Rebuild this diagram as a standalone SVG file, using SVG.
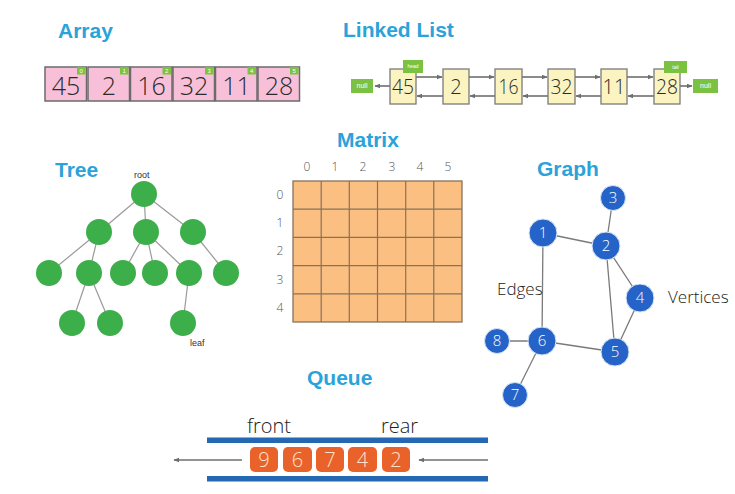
<svg xmlns="http://www.w3.org/2000/svg" width="735" height="494" viewBox="0 0 735 494">
<defs>
<marker id="ah" viewBox="0 0 10 10" refX="9" refY="5" markerWidth="6" markerHeight="6" orient="auto-start-reverse" markerUnits="userSpaceOnUse">
<path d="M0,1 L10,5 L0,9 z" fill="#6e6e6e"/>
</marker>
</defs>
<style>
.title{font-family:"Liberation Sans",Arial,sans-serif;font-weight:bold;font-size:21px;fill:#2aa3da}
.hand{font-family:"Open Sans","DejaVu Sans",sans-serif;font-weight:300}
.arr{fill:#f8c0d8;stroke:#6b6b6b;stroke-width:1.5}
.idx{fill:#7cc242}
.idxt{font-family:"Liberation Sans",sans-serif;font-size:6px;fill:#fff;text-anchor:middle}
.num{font-size:25px;fill:#2a2a2a;text-anchor:middle}
.ll{fill:#fbf4c0;stroke:#7a7a7a;stroke-width:1.3}
.lln{font-size:20px;fill:#2a2a2a;text-anchor:middle}
.gtag{fill:#7cc242}
.gtagt{font-family:"Liberation Sans",sans-serif;font-size:5px;fill:#fff;text-anchor:middle}
.con{stroke:#6e6e6e;stroke-width:1.6;fill:none}
.tedge{stroke:#9a9a9a;stroke-width:1.2}
.tn{fill:#3cae4a}
.small{font-family:"Liberation Sans Narrow","Liberation Sans",sans-serif;font-size:9px;fill:#333}
.mlab{font-size:12px;fill:#555;text-anchor:middle}
.gedge{stroke:#7a7a7a;stroke-width:1.3}
.gn{fill:#2563c8;stroke:#dbe6f5;stroke-width:1}
.gnt{font-size:15px;fill:#fff;text-anchor:middle}
.glab{font-size:17px;fill:#222}
.bar{fill:#2467b2}
.q{fill:#e8622a}
.qt{font-size:20px;fill:#fde3cc;text-anchor:middle}
</style>
<rect width="735" height="494" fill="#fff"/>

<!-- Titles -->
<text class="title" x="58" y="38">Array</text>
<text class="title" x="343" y="37">Linked List</text>
<text class="title" x="337" y="147">Matrix</text>
<text class="title" x="55" y="177">Tree</text>
<text class="title" x="537" y="176">Graph</text>
<text class="title" x="307" y="385">Queue</text>

<!-- Array -->
<g id="array">
<g id="arr0"><rect class="arr" x="45" y="67" width="41.5" height="34"/><rect class="idx" x="77" y="67" width="8.5" height="7.5"/><text class="idxt" x="81.2" y="73">0</text><text class="hand num" x="66" y="95">45</text></g>
<g id="arr1"><rect class="arr" x="88" y="67" width="41.5" height="34"/><rect class="idx" x="120" y="67" width="8.5" height="7.5"/><text class="idxt" x="124.2" y="73">1</text><text class="hand num" x="109" y="95">2</text></g>
<g id="arr2"><rect class="arr" x="130.5" y="67" width="41.5" height="34"/><rect class="idx" x="162.5" y="67" width="8.5" height="7.5"/><text class="idxt" x="166.7" y="73">2</text><text class="hand num" x="151.5" y="95">16</text></g>
<g id="arr3"><rect class="arr" x="173" y="67" width="41.5" height="34"/><rect class="idx" x="205" y="67" width="8.5" height="7.5"/><text class="idxt" x="209.2" y="73">3</text><text class="hand num" x="194" y="95">32</text></g>
<g id="arr4"><rect class="arr" x="215.5" y="67" width="41.5" height="34"/><rect class="idx" x="247.5" y="67" width="8.5" height="7.5"/><text class="idxt" x="251.7" y="73">4</text><text class="hand num" x="236.5" y="95">11</text></g>
<g id="arr5"><rect class="arr" x="258" y="67" width="41.5" height="34"/><rect class="idx" x="290" y="67" width="8.5" height="7.5"/><text class="idxt" x="294.2" y="73">5</text><text class="hand num" x="279" y="95">28</text></g>
</g>

<!-- Linked list -->
<g id="linkedlist-connectors">
<line class="con" x1="390" y1="86" x2="375" y2="86" marker-end="url(#ah)"/>
<line class="con" x1="680" y1="86" x2="692" y2="86" marker-end="url(#ah)"/>
<line class="con" x1="416" y1="77" x2="442" y2="77" marker-end="url(#ah)"/>
<line class="con" x1="443" y1="96" x2="417" y2="96" marker-end="url(#ah)"/>
<line class="con" x1="469" y1="77" x2="494" y2="77" marker-end="url(#ah)"/>
<line class="con" x1="495" y1="96" x2="470" y2="96" marker-end="url(#ah)"/>
<line class="con" x1="522" y1="77" x2="547" y2="77" marker-end="url(#ah)"/>
<line class="con" x1="548" y1="96" x2="523" y2="96" marker-end="url(#ah)"/>
<line class="con" x1="575" y1="77" x2="600" y2="77" marker-end="url(#ah)"/>
<line class="con" x1="601" y1="96" x2="576" y2="96" marker-end="url(#ah)"/>
<line class="con" x1="627" y1="77" x2="653" y2="77" marker-end="url(#ah)"/>
<line class="con" x1="654" y1="96" x2="628" y2="96" marker-end="url(#ah)"/>
</g>
<g id="ll-null-left"><rect class="gtag" x="351" y="79" width="22" height="14"/><text class="gtagt" x="362" y="88" style="font-size:7px">null</text></g>
<g id="ll-null-right"><rect class="gtag" x="693" y="79" width="25" height="14"/><text class="gtagt" x="705.5" y="88" style="font-size:7px">null</text></g>
<g id="ll45"><rect class="ll" x="390" y="69" width="26" height="35"/><text class="hand lln" x="403" y="94" textLength="22" lengthAdjust="spacingAndGlyphs">45</text><rect class="gtag" x="403" y="60" width="20" height="13"/><text class="gtagt" x="413" y="68">head</text></g>
<g id="ll2"><rect class="ll" x="443" y="69" width="26" height="35"/><text class="hand lln" x="456" y="94">2</text></g>
<g id="ll16"><rect class="ll" x="495" y="69" width="27" height="35"/><text class="hand lln" x="508.5" y="94" textLength="20" lengthAdjust="spacingAndGlyphs">16</text></g>
<g id="ll32"><rect class="ll" x="548" y="69" width="27" height="35"/><text class="hand lln" x="561.5" y="94" textLength="22" lengthAdjust="spacingAndGlyphs">32</text></g>
<g id="ll11"><rect class="ll" x="601" y="69" width="26" height="35"/><text class="hand lln" x="614" y="94">11</text></g>
<g id="ll28"><rect class="ll" x="654" y="69" width="26" height="35"/><text class="hand lln" x="667" y="94" textLength="22" lengthAdjust="spacingAndGlyphs">28</text><rect class="gtag" x="664" y="61" width="23" height="12"/><text class="gtagt" x="675.5" y="69">tail</text></g>

<!-- Tree -->
<g id="tree-edges">
<line class="tedge" x1="144" y1="194" x2="99" y2="232"/>
<line class="tedge" x1="144" y1="194" x2="146" y2="232"/>
<line class="tedge" x1="144" y1="194" x2="193" y2="232"/>
<line class="tedge" x1="99" y1="232" x2="49" y2="273"/>
<line class="tedge" x1="99" y1="232" x2="89" y2="273"/>
<line class="tedge" x1="146" y1="232" x2="123" y2="273"/>
<line class="tedge" x1="146" y1="232" x2="155" y2="273"/>
<line class="tedge" x1="146" y1="232" x2="189" y2="273"/>
<line class="tedge" x1="193" y1="232" x2="226" y2="273"/>
<line class="tedge" x1="89" y1="273" x2="72" y2="323"/>
<line class="tedge" x1="89" y1="273" x2="110" y2="323"/>
<line class="tedge" x1="189" y1="273" x2="183" y2="323"/>
</g>
<g id="tree-root"><circle class="tn" cx="144" cy="194" r="13"/><text class="small" x="134" y="178">root</text></g>
<g id="tree-n1"><circle class="tn" cx="99" cy="232" r="13"/></g>
<g id="tree-n2"><circle class="tn" cx="146" cy="232" r="13"/></g>
<g id="tree-n3"><circle class="tn" cx="193" cy="232" r="13"/></g>
<g id="tree-n4"><circle class="tn" cx="49" cy="273" r="13"/></g>
<g id="tree-n5"><circle class="tn" cx="89" cy="273" r="13"/></g>
<g id="tree-n6"><circle class="tn" cx="123" cy="273" r="13"/></g>
<g id="tree-n7"><circle class="tn" cx="155" cy="273" r="13"/></g>
<g id="tree-n8"><circle class="tn" cx="189" cy="273" r="13"/></g>
<g id="tree-n9"><circle class="tn" cx="226" cy="273" r="13"/></g>
<g id="tree-n10"><circle class="tn" cx="72" cy="323" r="13"/></g>
<g id="tree-n11"><circle class="tn" cx="110" cy="323" r="13"/></g>
<g id="tree-leaf"><circle class="tn" cx="183" cy="323" r="13"/><text class="small" x="190" y="346">leaf</text></g>

<!-- Matrix -->
<g id="matrix">
<g class="hand">
<text class="mlab" x="307" y="171">0</text><text class="mlab" x="335" y="171">1</text><text class="mlab" x="363" y="171">2</text><text class="mlab" x="392" y="171">3</text><text class="mlab" x="420" y="171">4</text><text class="mlab" x="448" y="171">5</text>
<text class="mlab" x="280" y="199">0</text><text class="mlab" x="280" y="227">1</text><text class="mlab" x="280" y="255">2</text><text class="mlab" x="280" y="284">3</text><text class="mlab" x="280" y="312">4</text>
</g>
<rect x="293" y="181" width="169" height="141" fill="#fbbf82" stroke="#85735e" stroke-width="1.3"/>
<g stroke="#85735e" stroke-width="1.2">
<line x1="321.2" y1="181" x2="321.2" y2="322"/><line x1="349.3" y1="181" x2="349.3" y2="322"/><line x1="377.5" y1="181" x2="377.5" y2="322"/><line x1="405.7" y1="181" x2="405.7" y2="322"/><line x1="433.8" y1="181" x2="433.8" y2="322"/>
<line x1="293" y1="209.2" x2="462" y2="209.2"/><line x1="293" y1="237.4" x2="462" y2="237.4"/><line x1="293" y1="265.6" x2="462" y2="265.6"/><line x1="293" y1="293.8" x2="462" y2="293.8"/>
</g>
</g>

<!-- Graph -->
<g id="graph-edges">
<line class="gedge" x1="613" y1="198" x2="606" y2="246"/>
<line class="gedge" x1="543" y1="233" x2="606" y2="246"/>
<line class="gedge" x1="543" y1="233" x2="542" y2="341"/>
<line class="gedge" x1="606" y1="246" x2="615" y2="352"/>
<line class="gedge" x1="606" y1="246" x2="640" y2="298"/>
<line class="gedge" x1="640" y1="298" x2="615" y2="352"/>
<line class="gedge" x1="542" y1="341" x2="615" y2="352"/>
<line class="gedge" x1="497" y1="341" x2="542" y2="341"/>
<line class="gedge" x1="542" y1="341" x2="515" y2="395"/>
</g>
<g id="g3"><circle class="gn" cx="613" cy="198" r="12.5"/><text class="hand gnt" x="613" y="203">3</text></g>
<g id="g1"><circle class="gn" cx="543" cy="233" r="14"/><text class="hand gnt" x="543" y="238">1</text></g>
<g id="g2"><circle class="gn" cx="606" cy="246" r="14"/><text class="hand gnt" x="606" y="251">2</text></g>
<g id="g4"><circle class="gn" cx="640" cy="298" r="14"/><text class="hand gnt" x="640" y="303">4</text></g>
<g id="g5"><circle class="gn" cx="615" cy="352" r="14"/><text class="hand gnt" x="615" y="357">5</text></g>
<g id="g6"><circle class="gn" cx="542" cy="341" r="14"/><text class="hand gnt" x="542" y="346">6</text></g>
<g id="g8"><circle class="gn" cx="497" cy="341" r="12.5"/><text class="hand gnt" x="497" y="346">8</text></g>
<g id="g7"><circle class="gn" cx="515" cy="395" r="12.5"/><text class="hand gnt" x="515" y="400">7</text></g>
<text class="hand glab" x="497" y="295">Edges</text>
<text class="hand glab" x="668" y="303">Vertices</text>

<!-- Queue -->
<g id="queue">
<text class="hand" x="247" y="433" style="font-size:20px;fill:#222">front</text>
<text class="hand" x="381" y="433" style="font-size:20px;fill:#222">rear</text>
<rect class="bar" x="207" y="437.5" width="281" height="5.5"/>
<rect class="bar" x="207" y="476" width="281" height="5.5"/>
</g>
<g id="queue-connectors">
<line class="con" x1="242" y1="460" x2="174" y2="460" marker-end="url(#ah)"/>
<line class="con" x1="488" y1="460" x2="419" y2="460" marker-end="url(#ah)"/>
</g>
<g id="q9"><rect class="q" x="250" y="447" width="28" height="25" rx="5"/><text class="hand qt" x="264" y="467">9</text></g>
<g id="q6"><rect class="q" x="283" y="447" width="29" height="25" rx="5"/><text class="hand qt" x="297.5" y="467">6</text></g>
<g id="q7"><rect class="q" x="316" y="447" width="28" height="25" rx="5"/><text class="hand qt" x="330" y="467">7</text></g>
<g id="q4"><rect class="q" x="348" y="447" width="29" height="25" rx="5"/><text class="hand qt" x="362.5" y="467">4</text></g>
<g id="q2"><rect class="q" x="382" y="447" width="28" height="25" rx="5"/><text class="hand qt" x="396" y="467">2</text></g>
</svg>
